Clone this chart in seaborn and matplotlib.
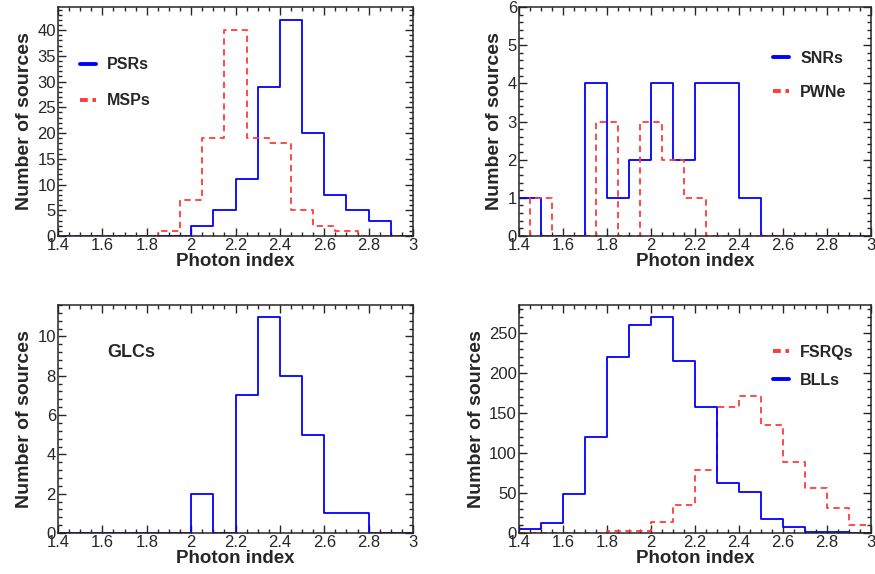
import numpy as np
import pandas as pd
import matplotlib
matplotlib.use("Agg")
from matplotlib import pyplot as plt
from matplotlib.lines import Line2D
from matplotlib.ticker import AutoMinorLocator, MultipleLocator
import seaborn as sns

# bin edges: 0.1 wide, some samples shifted by half a bin
edges = [round(1.4 + 0.1 * i, 2) for i in range(17)]
edges_shift = [round(1.35 + 0.1 * i, 2) for i in range(18)]

# PSRs / MSPs
psr_counts = [0, 0, 0, 0, 0, 0, 2, 5, 11, 29, 42, 20, 8, 5, 3, 0]
msp_counts = [0, 0, 0, 0, 0, 1, 7, 19, 40, 19, 18, 5, 2, 1, 0, 0, 0]

# SNRs / PWNe
snr_counts = [1, 0, 0, 4, 1, 2, 4, 2, 4, 4, 1, 0, 0, 0, 0, 0]
pwn_counts = [0, 1, 0, 0, 3, 0, 3, 2, 1, 0, 0, 0, 0, 0, 0, 0, 0]

# GLCs
glc_counts = [0, 0, 0, 0, 0, 0, 2, 0, 7, 11, 8, 5, 1, 1, 0, 0]

# BLLs / FSRQs
bll_counts = [5, 13, 49, 120, 220, 260, 270, 215, 158, 63, 51, 17, 7, 1, 1, 0]
fsrq_counts = [0, 0, 0, 0, 3, 3, 14, 35, 79, 158, 171, 135, 89, 56, 31, 10]

BLUE = "#0000ff"
RED = "#ff3c3c"


def centers(e):
    e = np.asarray(e)
    return (e[:-1] + e[1:]) / 2


def step_hist(ax, e, counts, color, dashed=False):
    df = pd.DataFrame({"x": centers(e), "w": counts})
    sns.histplot(data=df, x="x", weights="w", bins=list(e), element="step",
                 fill=False, color=color, linewidth=1.3,
                 linestyle=(0, (3.5, 2.5)) if dashed else "-", ax=ax)


def style_axis(ax, ytop, ymajor):
    ax.set_xlim(1.4, 3.0)
    ax.set_ylim(0, ytop)
    ax.xaxis.set_major_locator(MultipleLocator(0.2))
    ax.yaxis.set_major_locator(MultipleLocator(ymajor))
    ax.xaxis.set_minor_locator(AutoMinorLocator(4))
    ax.yaxis.set_minor_locator(AutoMinorLocator(5))
    ax.xaxis.set_major_formatter(plt.FuncFormatter(lambda v, p: f"{v:g}"))
    ax.tick_params(which="both", direction="in", top=True, right=True,
                   labelsize=12, width=1.0, pad=1.5)
    ax.tick_params(which="major", length=6)
    ax.tick_params(which="minor", length=3)
    for s in ax.spines.values():
        s.set_linewidth(1.1)
    ax.set_xlabel("Photon index", fontsize=13.5, fontweight="bold", labelpad=0)
    ax.set_ylabel("Number of sources", fontsize=14, fontweight="bold", labelpad=3)


def add_legend(ax, entries, loc_xy, spacing):
    handles = [Line2D([0], [0], color=c, lw=2.8,
                      linestyle=(0, (2.0, 1.2)) if d else "-", label=lab)
               for lab, c, d in entries]
    ax.legend(handles=handles, loc="upper left", bbox_to_anchor=loc_xy,
              frameon=False, handlelength=1.0, handletextpad=0.7,
              borderpad=0, borderaxespad=0,
              labelspacing=spacing, prop={"weight": "bold", "size": 11.5})


sns.set_style("ticks")
plt.rcParams["font.family"] = ["Liberation Sans", "DejaVu Sans"]

fig = plt.figure(figsize=(8.75, 5.74), dpi=100)
W, H = 875, 574
boxes = [(58, 7, 413, 236), (519, 7, 871, 236),
         (58, 305, 413, 533), (519, 305, 871, 533)]
axes = [fig.add_axes([l / W, 1 - b / H, (r - l) / W, (b - t) / H])
        for l, t, r, b in boxes]
ax1, ax2, ax3, ax4 = axes

# top left: PSRs and MSPs
step_hist(ax1, edges, psr_counts, BLUE)
step_hist(ax1, edges_shift, msp_counts, RED, dashed=True)
style_axis(ax1, 44.5, 5)
add_legend(ax1, [("PSRs", BLUE, False), ("MSPs", RED, True)], (0.062, 0.78), 1.3)

# top right: SNRs and PWNe
step_hist(ax2, edges, snr_counts, BLUE)
step_hist(ax2, edges_shift, pwn_counts, RED, dashed=True)
style_axis(ax2, 6, 1)
add_legend(ax2, [("SNRs", BLUE, False), ("PWNe", RED, True)], (0.722, 0.81), 1.2)

# bottom left: GLCs
step_hist(ax3, edges, glc_counts, BLUE)
style_axis(ax3, 11.6, 2)
ax3.text(0.138, 0.79, "GLCs", transform=ax3.transAxes, fontsize=13,
         fontweight="bold", va="center", ha="left")

# bottom right: FSRQs and BLLs
step_hist(ax4, edges, fsrq_counts, RED, dashed=True)
step_hist(ax4, edges, bll_counts, BLUE)
style_axis(ax4, 285, 50)
add_legend(ax4, [("FSRQs", RED, True), ("BLLs", BLUE, False)], (0.722, 0.825), 0.8)

fig.savefig("out.png", dpi=100)
